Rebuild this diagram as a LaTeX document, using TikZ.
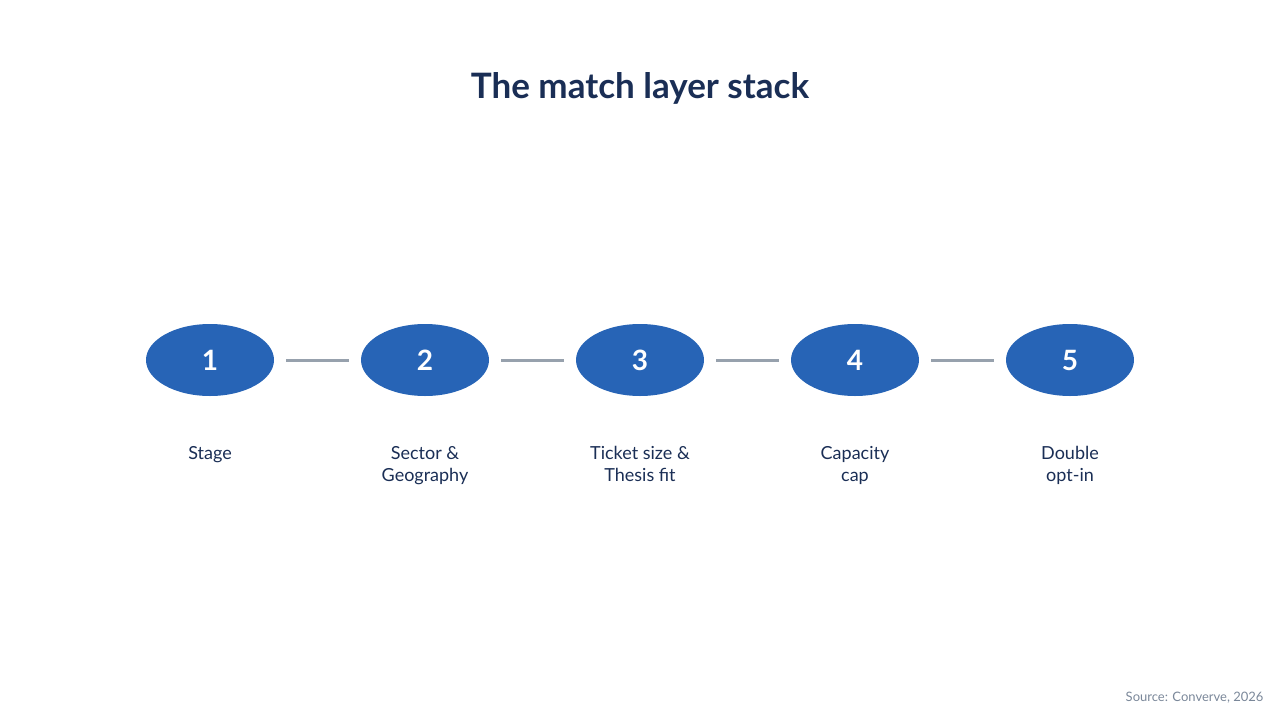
\documentclass[tikz,border=0pt]{standalone}
\usepackage{fontspec}
\setmainfont{Lato}
\usetikzlibrary{shapes.geometric}
\definecolor{navy}{HTML}{1A2E55}
\definecolor{blu}{HTML}{2764B6}
\definecolor{gry}{HTML}{97A1AD}
\definecolor{src}{HTML}{7A8799}
\begin{document}
\begin{tikzpicture}[x=1pt,y=-1pt,
  stepnode/.style={ellipse,fill=blu,minimum width=128pt,minimum height=72pt,inner sep=0pt,text=white,font=\fontsize{28}{32}\selectfont\bfseries},
  lab/.style={text=navy,font=\fontsize{18}{22}\selectfont,align=center,anchor=north},
  conn/.style={draw=gry,line width=3pt}]
\useasboundingbox (0,0) rectangle (1280,720);
\node[text=navy,font=\fontsize{35}{40}\selectfont\bfseries] (title) at (640,88) {The match layer stack};
\foreach \i/\x in {1/210,2/425,3/640,4/855,5/1070}{
  \node[stepnode] (s\i) at (\x,360) {\i};
}
\foreach \a/\b in {1/2,2/3,3/4,4/5}{
  \draw[conn] ([xshift=12pt]s\a.east) -- ([xshift=-12pt]s\b.west);
}
\node[lab] (l1) at (210,443) {Stage};
\node[lab] (l2) at (425,443) {Sector \&\\Geography};
\node[lab] (l3) at (640,443) {Ticket size \&\\Thesis fit};
\node[lab] (l4) at (855,443) {Capacity\\cap};
\node[lab] (l5) at (1070,443) {Double\\opt-in};
\node[text=src,font=\fontsize{13}{15}\selectfont,anchor=east] (source) at (1267,698) {Source: Converve, 2026};
\end{tikzpicture}
\end{document}
